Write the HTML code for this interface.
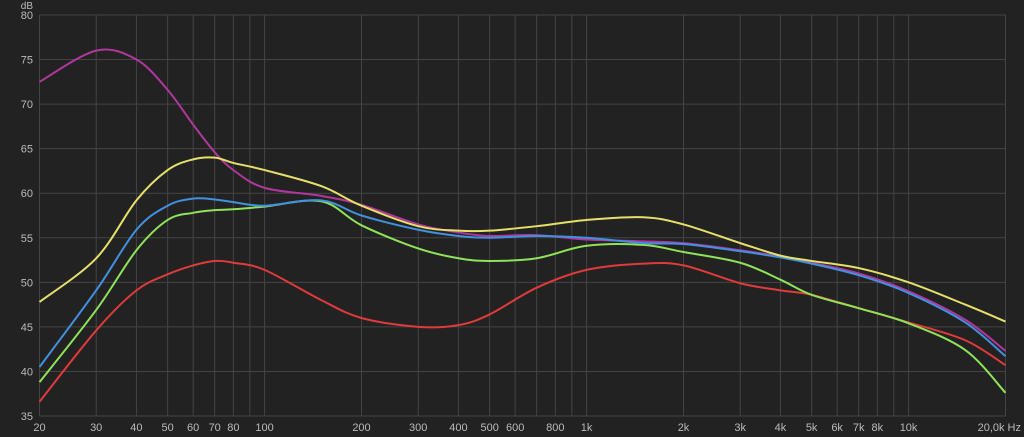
<!DOCTYPE html>
<html><head><meta charset="utf-8"><style>
html,body{margin:0;padding:0;background:#222;}
svg{display:block;font-family:"Liberation Sans",sans-serif;}
</style></head><body>
<svg id="chart" width="1024" height="437" viewBox="0 0 1024 437">
<rect x="0" y="0" width="1024" height="437" fill="#222222"/>
<g id="grid"></g>
<g id="labels"></g>
<g id="series"></g>
</svg>
<script>
const freqs = [20,30,40,50,60,70,80,100,150,200,300,400,500,700,1000,1500,2000,3000,4000,5000,7000,10000,15000,20000];
const magenta = [72.5,76,75,71.6,67.7,64.6,62.6,60.6,59.7,58.7,56.5,55.6,55.2,55.3,54.8,54.6,54.4,53.6,52.9,52.2,51,49,45.8,42.3];
const yellow = [47.8,52.7,59.2,62.6,63.8,64,63.4,62.6,60.8,58.6,56.3,55.8,55.8,56.3,57,57.3,56.5,54.4,53,52.4,51.6,50,47.5,45.6];
const blue = [40.5,49.1,55.9,58.6,59.4,59.3,59,58.6,59.2,57.5,55.9,55.2,55,55.2,55,54.4,54.3,53.5,52.8,52.1,50.8,48.8,45.5,41.7];
const green = [38.8,46.9,53.6,57,57.8,58.1,58.2,58.5,59.1,56.4,53.8,52.7,52.4,52.7,54.1,54.2,53.4,52.2,50.3,48.6,47.1,45.4,42.4,37.6];
const red = [36.6,44.6,49.1,50.9,51.9,52.4,52.2,51.4,48,46,45,45.2,46.4,49.4,51.4,52.1,51.9,49.9,49.1,48.6,47.1,45.5,43.5,40.7];
const yTicks = [35,40,45,50,55,60,65,70,75,80];
const gridFreqs = [20,30,40,50,60,70,80,90,100,200,300,400,500,600,700,800,900,1000,2000,3000,4000,5000,6000,7000,8000,9000,10000,20000];
const xTickFreqs = [20,30,40,50,60,70,80,100,200,300,400,500,600,800,1000,2000,3000,4000,5000,6000,7000,8000,10000,20000];
const xTickLabels = ["20","30","40","50","60","70","80","100","200","300","400","500","600","800","1k","2k","3k","4k","5k","6k","7k","8k","10k","20,0k Hz"];

const X0=39.5,X1=1005.5,Y0=15,Y1=416;
const NS="http://www.w3.org/2000/svg";
function xs(f){return X0+(X1-X0)*Math.log10(f/20)/3;}
function ys(v){return Y1-(v-35)/45*(Y1-Y0);}
function mk(t,a,p){const e=document.createElementNS(NS,t);for(const k in a)e.setAttribute(k,a[k]);p.appendChild(e);return e;}
const grid=document.getElementById('grid'),labels=document.getElementById('labels'),series=document.getElementById('series');
yTicks.forEach(v=>{
  const l=mk('line',{x1:X0,x2:X1,y1:ys(v),y2:ys(v),stroke:'#444','stroke-width':1},grid);
  
  
  const t=mk('text',{x:33,y:ys(v)+4,'text-anchor':'end','font-size':11,fill:'#bbb'},labels);
  t.textContent=v;
  
  
});
gridFreqs.forEach(f=>{
  const l=mk('line',{x1:xs(f),x2:xs(f),y1:Y0,y2:Y1,stroke:'#444','stroke-width':1},grid);
  
  
});
xTickFreqs.forEach((f,i)=>{
  const last=i===xTickFreqs.length-1;
  const t=mk('text',{x:last?1021:xs(f),y:431,'text-anchor':last?'end':'middle','font-size':11,fill:'#bbb'},labels);
  t.textContent=xTickLabels[i];
  
  
});
const u=mk('text',{x:33,y:9,'text-anchor':'end','font-size':10,fill:'#bbb'},labels);
u.textContent='dB';



function path(vals){
  const p=freqs.map((f,i)=>[xs(f),ys(vals[i])]);
  let d='M'+p[0][0]+','+p[0][1];
  for(let i=0;i<p.length-1;i++){
    const a=p[Math.max(0,i-1)],b=p[i],c=p[i+1],e=p[Math.min(p.length-1,i+2)];
    const c1=[b[0]+(c[0]-a[0])/6,b[1]+(c[1]-a[1])/6],c2=[c[0]-(e[0]-b[0])/6,c[1]-(e[1]-b[1])/6];
    d+=' C'+c1[0]+','+c1[1]+' '+c2[0]+','+c2[1]+' '+c[0]+','+c[1];
  }
  return d;
}
[[magenta,'#b0379c','magenta-series'],[red,'#e03a3a','red-series'],[green,'#8fe35a','green-series'],[blue,'#4290e0','blue-series'],[yellow,'#e6e06a','yellow-series']].forEach(s=>{
  const e=mk('path',{d:path(s[0]),fill:'none',stroke:s[1],'stroke-width':2},series);
  
  
});
</script>
</body></html>
